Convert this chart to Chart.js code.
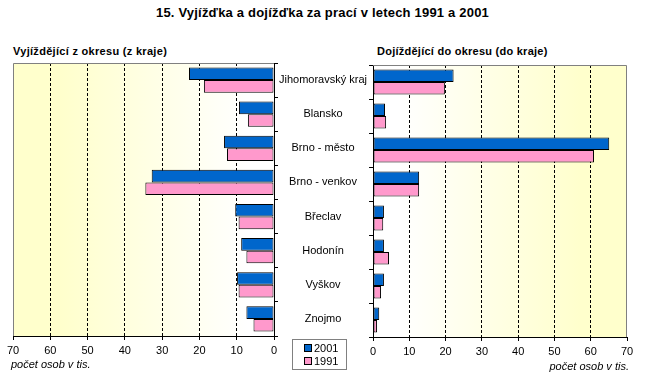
<!DOCTYPE html>
<html>
<head>
<meta charset="utf-8">
<script src="https://cdn.jsdelivr.net/npm/chart.js@4.4.0/dist/chart.umd.min.js"></script>
<style>
  body { margin: 0; background: #fff; width: 645px; height: 389px; overflow: hidden; position: relative;
         font-family: "Liberation Sans", Arial, sans-serif; color: #000; }
  canvas { position: absolute; top: 0; }
  #left { left: 0; }
  #right { left: 366px; }
  .txt { position: absolute; white-space: nowrap; }
  #title { left: 0; width: 645px; top: 5px; text-align: center; font-weight: bold; font-size: 13px; letter-spacing: 0.2px; }
  #tl { left: 13px; top: 45px; font-weight: bold; font-size: 11px; letter-spacing: 0.3px; }
  #tr { left: 377px; top: 45px; font-weight: bold; font-size: 11px; letter-spacing: 0.25px; }
  #capl { left: 11px; top: 358px; font-style: italic; font-size: 11px; }
  #capr { right: 16px; top: 360px; font-style: italic; font-size: 11px; }
  #legend { position: absolute; left: 292px; top: 339px; width: 55px; height: 31px; border: 1px solid #808080;
            font-size: 11px; box-sizing: border-box; padding: 2px 0 0 11px; }
  #legend div { height: 13px; line-height: 13px; }
  #legend span { display: inline-block; width: 6px; height: 6px; border: 1px solid #000; margin-right: 2px; vertical-align: 0; }
</style>
</head>
<body>
<div class="txt" id="title">15. Vyjížďka a dojížďka za prací v letech 1991 a 2001</div>
<div class="txt" id="tl">Vyjíždějící z okresu (z kraje)</div>
<div class="txt" id="tr">Dojíždějící do okresu (do kraje)</div>
<canvas id="left" width="374" height="389"></canvas>
<canvas id="right" width="279" height="389"></canvas>
<div class="txt" id="capl">počet osob v tis.</div>
<div class="txt" id="capr">počet osob v tis.</div>
<div id="legend"></div>
<script>
const categories = ['Jihomoravský kraj', 'Blansko', 'Brno - město', 'Brno - venkov', 'Břeclav', 'Hodonín', 'Vyškov', 'Znojmo'];
const years = ['2001', '1991'];
const outgoing2001 = [22.8, 9.4, 13.4, 32.8, 10.4, 8.8, 9.9, 7.4];
const outgoing1991 = [18.8, 7.0, 12.6, 34.5, 9.5, 7.4, 9.5, 5.5];
const incoming2001 = [22.2, 3.3, 65.1, 12.7, 3.0, 3.0, 3.0, 1.7];
const incoming1991 = [19.8, 3.6, 60.9, 12.7, 2.8, 4.4, 2.2, 1.1];
const xTicks = [0, 10, 20, 30, 40, 50, 60, 70];
const colors = ['#0066CC', '#FF99CC'];

const font = { family: '"Liberation Sans", Arial, sans-serif', size: 11 };

// yellow gradient behind the plot + grey frame on the outer sides
const panelBg = {
    id: 'panelBg',
    beforeDraw(chart, args, opts) {
        const ctx = chart.ctx, a = chart.chartArea;
        const outerLeft = opts.outer === 'left';
        const g = ctx.createLinearGradient(outerLeft ? a.left : a.right, 0, outerLeft ? a.right : a.left, 0);
        g.addColorStop(0, '#FFFFCC');
        g.addColorStop(0.18, '#FFFFCC');
        g.addColorStop(0.9, '#FFFFFF');
        g.addColorStop(1, '#FFFFFF');
        ctx.save();
        ctx.fillStyle = g;
        ctx.fillRect(a.left, a.top, a.width, a.height);
        ctx.restore();
    },
    beforeDatasetsDraw(chart, args, opts) {
        const ctx = chart.ctx, a = chart.chartArea;
        ctx.save();
        ctx.strokeStyle = '#808080';
        ctx.lineWidth = 1;
        ctx.beginPath();
        if (opts.outer === 'left') {
            ctx.moveTo(a.left + 0.5, a.bottom);
            ctx.lineTo(a.left + 0.5, a.top + 0.5);
            ctx.lineTo(a.right, a.top + 0.5);
        } else {
            ctx.moveTo(a.left, a.top + 0.5);
            ctx.lineTo(a.right - 0.5, a.top + 0.5);
            ctx.lineTo(a.right - 0.5, a.bottom);
        }
        ctx.stroke();
        ctx.restore();
    }
};

const make_Chart = (id, d2001, d1991, side, padding) => {
    const isLeft = side === 'left';
    const series = [d2001, d1991];
    return new Chart(document.getElementById(id), {
        type: 'bar',
        data: {
            labels: categories,
            datasets: years.map((y, i) => ({
                label: y,
                data: series[i],
                backgroundColor: colors[i],
                borderColor: '#000',
                borderWidth: 1,
                borderSkipped: false,
                categoryPercentage: 0.74,
                barPercentage: 1
            }))
        },
        options: {
            indexAxis: 'y',
            responsive: false,
            animation: false,
            layout: { padding: padding },
            plugins: {
                legend: { display: false },
                tooltip: { enabled: false },
                panelBg: { outer: side }
            },
            scales: {
                x: {
                    min: 0,
                    max: 70,
                    reverse: isLeft,
                    afterBuildTicks: s => { s.ticks = xTicks.map(v => ({ value: v })); },
                    afterFit: s => { s.height = 20; },
                    ticks: { font: font, color: '#000', padding: 4, maxRotation: 0 },
                    grid: {
                        color: c => (c.tick && (c.tick.value === 0 || c.tick.value === 70)) ? 'rgba(0,0,0,0)' : '#000',
                        tickColor: '#000',
                        tickLength: 4,
                        tickBorderDash: [],
                        lineWidth: 1
                    },
                    border: { color: '#000', dash: [3, 2] }
                },
                y: {
                    position: isLeft ? 'right' : 'left',
                    afterFit: s => { s.width = isLeft ? 100 : 4; },
                    grid: { offset: true, drawOnChartArea: false, tickLength: 4, color: '#000', tickColor: '#000' },
                    border: { color: '#000' },
                    ticks: { display: isLeft, crossAlign: 'center', padding: 1, font: font, color: '#000' }
                }
            }
        },
        plugins: [panelBg]
    });
};

make_Chart('left', outgoing2001, outgoing1991, 'left', { left: 13, top: 63, right: 0, bottom: 33 });
make_Chart('right', incoming2001, incoming1991, 'right', { left: 0, top: 65, right: 18, bottom: 32 });

// legend
const legend = document.getElementById('legend');
years.forEach((y, i) => {
    const row = document.createElement('div');
    const sw = document.createElement('span');
    sw.style.background = colors[i];
    row.appendChild(sw);
    row.appendChild(document.createTextNode(y));
    legend.appendChild(row);
});
</script>
</body>
</html>
